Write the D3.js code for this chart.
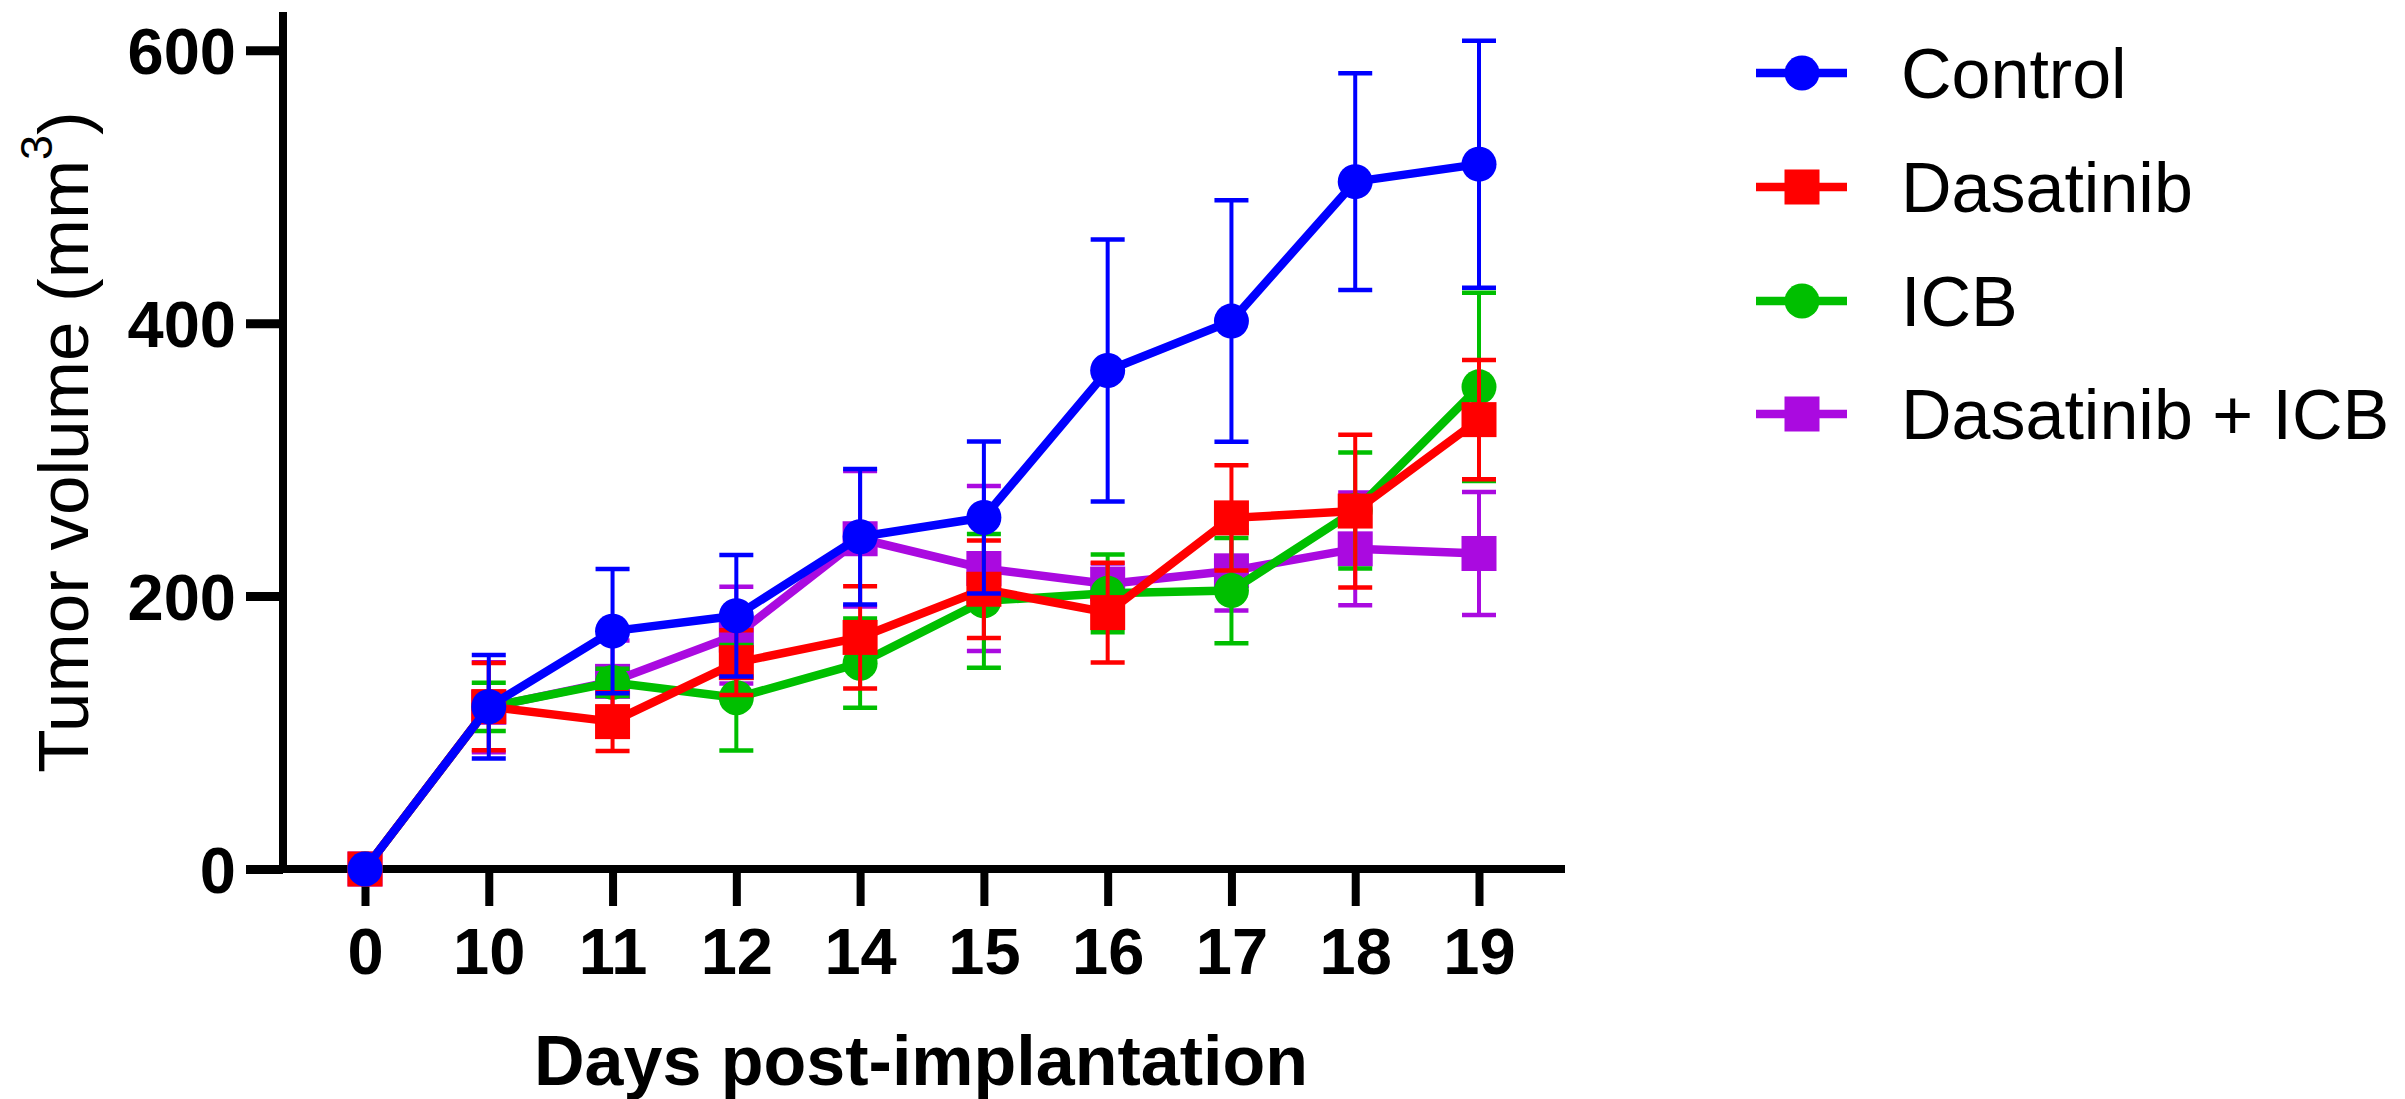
<!DOCTYPE html>
<html>
<head>
<meta charset="utf-8">
<script src="https://cdn.jsdelivr.net/npm/d3@7"></script>
<style>
  html, body { margin: 0; padding: 0; background: #fff; }
  svg { display: block; }
  text { font-family: "Liberation Sans", Arial, Helvetica, sans-serif; }
</style>
</head>
<body>
<svg id="chart" width="2405" height="1099"></svg>
<script>
// ---------- data ----------
const days = ["0", "10", "11", "12", "14", "15", "16", "17", "18", "19"];
const yTicks = [0, 200, 400, 600];
const seriesNames = ["Control", "Dasatinib", "ICB", "Dasatinib + ICB"];
const controlMean = [0, 118.9, 174.3, 185.6, 243.5, 257.6, 365.3, 401.5, 503.7, 516.5];
const controlSem  = [0, 38, 45.5, 44.5, 49.6, 55.7, 96, 88.5, 79.5, 90.5];
const dasatinibMean = [0, 119, 108, 151.2, 169.7, 205, 187.9, 257.3, 262.3, 329.3];
const dasatinibSem  = [0, 32, 21.6, 23.7, 37.5, 35.7, 36.5, 38.5, 56, 43.7];
const icbMean = [0, 118.8, 136.7, 125.5, 150.8, 196.5, 202, 204, 262.7, 353.3];
const icbSem  = [0, 17.7, 10, 38.7, 32.7, 49, 28.5, 38.6, 42.5, 69];
const comboMean = [0, 118.5, 137.5, 171.4, 242, 220.2, 208.8, 218.5, 234.6, 231.2];
const comboSem  = [0, 33, 30, 35.4, 49.6, 60.5, 15, 29, 41.3, 45];

// ---------- style ----------
const colors = { "Control": "#0000ff", "Dasatinib": "#ff0000", "ICB": "#00bf00", "Dasatinib + ICB": "#aa0ae0" };
const shapes = { "Control": "circle", "Dasatinib": "square", "ICB": "circle", "Dasatinib + ICB": "square" };
const series = [
  { name: "Control", mean: controlMean, sem: controlSem },
  { name: "Dasatinib", mean: dasatinibMean, sem: dasatinibSem },
  { name: "ICB", mean: icbMean, sem: icbSem },
  { name: "Dasatinib + ICB", mean: comboMean, sem: comboSem }
];

const svg = d3.select("#chart");
const axisX0 = 283, axisX1 = 1565, axisY0 = 869, axisYTop = 12;

const x = d3.scalePoint().domain(days).range([365, 1479]);
const y = d3.scaleLinear().domain([0, 628]).range([axisY0, axisYTop]);

// ---------- axes ----------
const xAxisG = svg.append("g").attr("transform", `translate(0,${axisY0})`)
  .call(d3.axisBottom(x).tickSize(37).tickSizeOuter(0).tickPadding(22));
xAxisG.select(".domain").remove();
xAxisG.selectAll(".tick line").attr("stroke", "#000").attr("stroke-width", 8);
xAxisG.selectAll(".tick text").attr("fill", "#000").attr("font-size", 65).attr("font-weight", "bold");

const yAxisG = svg.append("g").attr("transform", `translate(${axisX0},0)`)
  .call(d3.axisLeft(y).tickValues(yTicks).tickSize(37).tickSizeOuter(0).tickPadding(10));
yAxisG.select(".domain").remove();
yAxisG.selectAll(".tick line").attr("stroke", "#000").attr("stroke-width", 9);
yAxisG.selectAll(".tick text").attr("fill", "#000").attr("font-size", 65).attr("font-weight", "bold")
  .attr("dy", "0.36em");

// axis lines
svg.append("line").attr("x1", axisX0 - 4).attr("x2", axisX1).attr("y1", axisY0).attr("y2", axisY0)
  .attr("stroke", "#000").attr("stroke-width", 8);
svg.append("line").attr("x1", axisX0).attr("x2", axisX0).attr("y1", axisYTop).attr("y2", axisY0 + 4)
  .attr("stroke", "#000").attr("stroke-width", 8);

// axis titles
svg.append("text").attr("x", 921).attr("y", 1085).attr("text-anchor", "middle")
  .attr("font-size", 70).attr("font-weight", "bold").attr("fill", "#000")
  .text("Days post-implantation");

const yt = svg.append("text").attr("transform", "translate(88,442) rotate(-90)")
  .attr("text-anchor", "middle").attr("font-size", 71).attr("fill", "#000");
yt.append("tspan").text("Tumor volume (mm");
yt.append("tspan").attr("font-size", 45).attr("dy", -36).text("3");
yt.append("tspan").attr("dy", 36).text(")");

// ---------- series (drawn bottom to top) ----------
const drawOrder = ["Dasatinib + ICB", "ICB", "Dasatinib", "Control"];
const markerR = 17.5, sq = 35, capW = 34;

function drawMarker(g, shape, cx, cy, color) {
  if (shape === "circle") {
    g.append("circle").attr("cx", cx).attr("cy", cy).attr("r", markerR).attr("fill", color);
  } else {
    g.append("rect").attr("x", cx - sq / 2).attr("y", cy - sq / 2).attr("width", sq).attr("height", sq).attr("fill", color);
  }
}

drawOrder.forEach(name => {
  const s = series.find(d => d.name === name);
  const color = colors[name];
  const g = svg.append("g");
  const pts = days.map((d, i) => ({ day: d, m: s.mean[i], e: s.sem[i] }));
  g.append("path").datum(pts)
    .attr("d", d3.line().x(d => x(d.day)).y(d => y(d.m)))
    .attr("fill", "none").attr("stroke", color).attr("stroke-width", 8.5).attr("stroke-linejoin", "round");
  pts.forEach(p => {
    if (p.e > 0) {
      const cx = x(p.day);
      g.append("line").attr("x1", cx).attr("x2", cx).attr("y1", y(p.m + p.e)).attr("y2", y(p.m - p.e))
        .attr("stroke", color).attr("stroke-width", 4);
      [p.m + p.e, p.m - p.e].forEach(v => {
        g.append("line").attr("x1", cx - capW / 2).attr("x2", cx + capW / 2).attr("y1", y(v)).attr("y2", y(v))
          .attr("stroke", color).attr("stroke-width", 4.5);
      });
    }
  });
  pts.forEach(p => drawMarker(g, shapes[name], x(p.day), y(p.m), color));
});

// ---------- legend ----------
const legendRowsY = [73, 187, 301, 414];
const lg = svg.append("g");
seriesNames.forEach((name, i) => {
  const cy = legendRowsY[i];
  lg.append("line").attr("x1", 1756).attr("x2", 1847).attr("y1", cy).attr("y2", cy)
    .attr("stroke", colors[name]).attr("stroke-width", 8.5);
  drawMarker(lg, shapes[name], 1802, cy, colors[name]);
  lg.append("text").attr("x", 1901).attr("y", cy).attr("dy", "0.36em")
    .attr("font-size", 70).attr("fill", "#000").text(name);
});
</script>
</body>
</html>
